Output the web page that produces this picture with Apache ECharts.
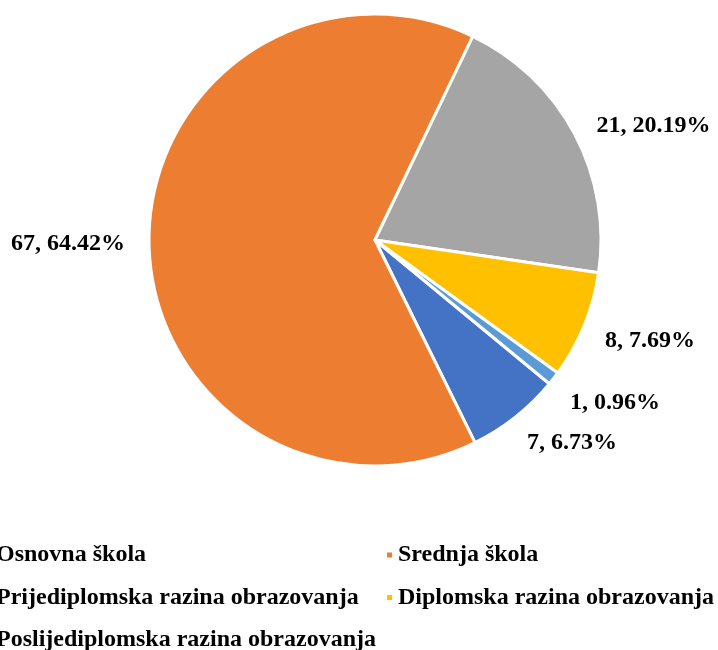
<!DOCTYPE html>
<html><head><meta charset="utf-8">
<script src="https://cdn.jsdelivr.net/npm/echarts@6/dist/echarts.min.js"></script>
<style>html,body{margin:0;padding:0;background:#fff}#c{width:718px;height:650px}</style>
</head><body><div id="c"></div>
<script>
const categories = ['Osnovna škola','Srednja škola','Prijediplomska razina obrazovanja','Diplomska razina obrazovanja','Poslijediplomska razina obrazovanja'];
const values = [7, 67, 21, 8, 1];
const colors = ['#4472C4','#ED7D31','#A5A5A5','#FFC000','#5B9BD5'];
const font = "'Liberation Serif','Times New Roman',serif";
const total = values.reduce((a, b) => a + b, 0);
// label nudges (Excel best-fit placement), index-aligned with categories
const labelNudge = [[-12, 12], [6, 2], [-6, 0], [-8, 9], [-10, 14]];
// legend grid: column x, row y for each category
const legendPos = [[-17, 543], [385, 543], [-17, 585.5], [385, 585.5], [-17, 628]];
const chart = echarts.init(document.getElementById('c'));
const legendText = {fontFamily: font, fontWeight: 'bold', fontSize: 24, color: '#000', lineHeight: 24};
chart.setOption({
  animation: false,
  color: colors,
  legend: categories.map((n, i) => ({
    orient: 'horizontal', left: legendPos[i][0], top: legendPos[i][1],
    itemWidth: 7, itemHeight: 7, icon: 'rect', padding: 0,
    data: [n], textStyle: legendText
  })),
  series: [{
    type: 'pie',
    center: [375, 240],
    radius: 226,
    startAngle: -39.5,
    clockwise: true,
    avoidLabelOverlap: false,
    itemStyle: {borderColor: '#fff', borderWidth: 3},
    label: {show: true, position: 'outside',
      formatter: p => p.value + ', ' + (p.value / total * 100).toFixed(2) + '%',
      fontFamily: font, fontWeight: 'bold', fontSize: 24, color: '#000'},
    labelLine: {show: false, length: 17, length2: 8},
    labelLayout: p => ({dx: labelNudge[p.dataIndex][0], dy: labelNudge[p.dataIndex][1]}),
    data: categories.map((n, i) => ({name: n, value: values[i]}))
  }]
});
</script></body></html>
